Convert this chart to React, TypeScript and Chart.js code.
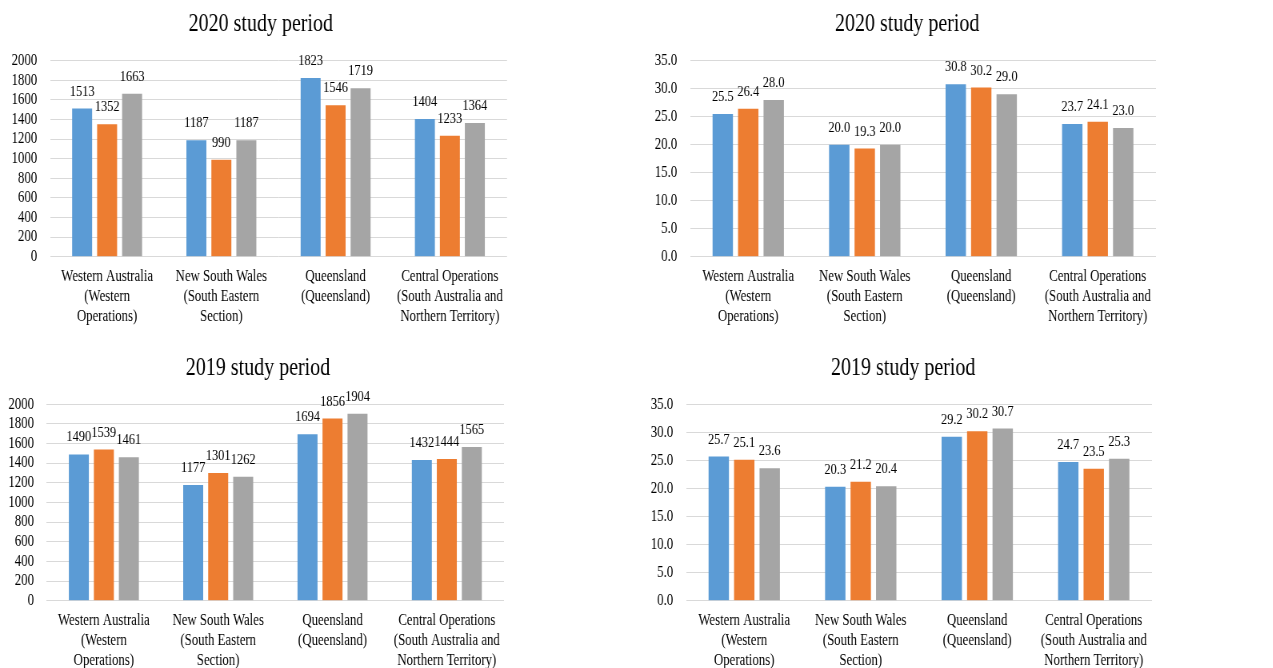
import React, { useEffect, useRef } from "react";
import { Chart, registerables } from "chart.js";

Chart.register(...registerables);

// ---------- data ----------
const categories: string[][] = [
  ["Western Australia", "(Western", "Operations)"],
  ["New South Wales", "(South Eastern", "Section)"],
  ["Queensland", "(Queensland)"],
  ["Central Operations", "(South Australia and", "Northern Territory)"],
];
const seriesNames = ["Series 1", "Series 2", "Series 3"];

const counts2020S1 = [1513, 1187, 1823, 1404];
const counts2020S2 = [1352, 990, 1546, 1233];
const counts2020S3 = [1663, 1187, 1719, 1364];

const rate2020S1 = [25.5, 20.0, 30.8, 23.7];
const rate2020S2 = [26.4, 19.3, 30.2, 24.1];
const rate2020S3 = [28.0, 20.0, 29.0, 23.0];

const counts2019S1 = [1490, 1177, 1694, 1432];
const counts2019S2 = [1539, 1301, 1856, 1444];
const counts2019S3 = [1461, 1262, 1904, 1565];

const rate2019S1 = [25.7, 20.3, 29.2, 24.7];
const rate2019S2 = [25.1, 21.2, 30.2, 23.5];
const rate2019S3 = [23.6, 20.4, 30.7, 25.3];

const title2020 = "2020 study period";
const title2019 = "2019 study period";

// ---------- style ----------
const COLORS = ["#5B9BD5", "#ED7D31", "#A5A5A5"];
const SX = 0.8; // horizontal condensation of the reference figure
const FONT = "'Liberation Serif', 'Times New Roman', serif";

type PanelProps = {
  title: string;
  series: number[][];
  yMax: number;
  yStep: number;
  decimals: number;
  left: number;
  top: number;
  width: number;
  height: number;
  plotLeft: number;
  plotRight: number;
  plotTop: number;
  plotBottom: number;
  titleX: number;
  titleY: number;
};

function Panel(p: PanelProps) {
  const ref = useRef<HTMLCanvasElement>(null);
  useEffect(() => {
    if (!ref.current) return;
    const overlay = {
      id: "overlayText",
      afterDatasetsDraw(chart: any) {
        const ctx = chart.ctx;
        ctx.save();
        ctx.fillStyle = "#000";
        ctx.textAlign = "center";
        ctx.textBaseline = "middle";
        ctx.font = `15.5px ${FONT}`;
        chart.data.datasets.forEach((ds: any, i: number) => {
          const meta = chart.getDatasetMeta(i);
          meta.data.forEach((bar: any, j: number) => {
            const v = ds.data[j] as number;
            ctx.fillText(v.toFixed(p.decimals), bar.x, bar.y - 17);
          });
        });
        ctx.font = `25px ${FONT}`;
        ctx.fillText(p.title, p.titleX, p.titleY);
        ctx.restore();
      },
    };
    const chart = new Chart(ref.current, {
      type: "bar",
      data: {
        labels: categories,
        datasets: p.series.map((d, i) => ({
          label: seriesNames[i],
          data: d,
          backgroundColor: COLORS[i],
          borderWidth: 0,
          categoryPercentage: 0.656,
          barPercentage: 0.8,
        })),
      },
      options: {
        responsive: false,
        animation: false,
        layout: {
          padding: { top: p.plotTop, right: p.width - p.plotRight, left: 0, bottom: 0 },
        },
        plugins: {
          legend: { display: false },
          tooltip: { enabled: false },
          title: { display: false },
        },
        scales: {
          x: {
            grid: { display: false, drawTicks: false },
            border: { display: false },
            ticks: {
              font: { family: FONT, size: 16, lineHeight: 1.25 },
              color: "#000",
              padding: 10,
              maxRotation: 0,
              minRotation: 0,
              autoSkip: false,
            },
            afterFit: (s: any) => {
              s.height = p.height - p.plotBottom;
            },
          },
          y: {
            min: 0,
            max: p.yMax,
            ticks: {
              stepSize: p.yStep,
              autoSkip: false,
              font: { family: FONT, size: 16 },
              color: "#000",
              padding: 16,
              callback: (v: any) => Number(v).toFixed(p.decimals),
            },
            grid: { color: "#D9D9D9", drawTicks: false, lineWidth: 1 },
            border: { display: false },
            afterFit: (s: any) => {
              s.width = p.plotLeft;
            },
          },
        },
      } as any,
      plugins: [overlay],
    });
    return () => chart.destroy();
  }, []);
  return (
    <div
      style={{
        position: "absolute",
        left: p.left,
        top: p.top,
        width: p.width,
        height: p.height,
        transform: `scaleX(${SX})`,
        transformOrigin: "0 0",
      }}
    >
      <canvas ref={ref} width={p.width} height={p.height} />
    </div>
  );
}

export default function App() {
  return (
    <div
      style={{
        position: "absolute",
        left: 0,
        top: 0,
        width: 1273,
        height: 668,
        background: "#fff",
        overflow: "hidden",
      }}
    >
      <Panel
        title={title2020}
        series={[counts2020S1, counts2020S2, counts2020S3]}
        yMax={2000}
        yStep={200}
        decimals={0}
        left={0}
        top={0}
        width={654}
        height={334}
        plotLeft={62.5}
        plotRight={633.75}
        plotTop={60.7}
        plotBottom={256.7}
        titleX={326}
        titleY={24}
      />
      <Panel
        title={title2020}
        series={[rate2020S1, rate2020S2, rate2020S3]}
        yMax={35}
        yStep={5}
        decimals={1}
        left={640}
        top={0}
        width={665}
        height={334}
        plotLeft={62.5}
        plotRight={645}
        plotTop={60.7}
        plotBottom={256.7}
        titleX={334}
        titleY={24}
      />
      <Panel
        title={title2019}
        series={[counts2019S1, counts2019S2, counts2019S3]}
        yMax={2000}
        yStep={200}
        decimals={0}
        left={0}
        top={340}
        width={650}
        height={328}
        plotLeft={58.4}
        plotRight={630}
        plotTop={64.3}
        plotBottom={260.7}
        titleX={322.5}
        titleY={28}
      />
      <Panel
        title={title2019}
        series={[rate2019S1, rate2019S2, rate2019S3]}
        yMax={35}
        yStep={5}
        decimals={1}
        left={640}
        top={340}
        width={660}
        height={328}
        plotLeft={57.5}
        plotRight={640}
        plotTop={64.3}
        plotBottom={260.7}
        titleX={329}
        titleY={28}
      />
    </div>
  );
}
